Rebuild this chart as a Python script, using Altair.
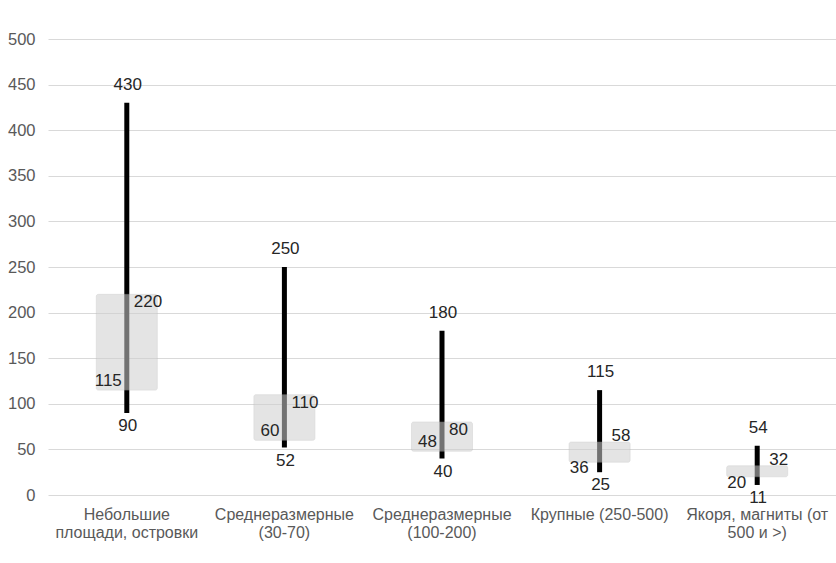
import altair as alt
import pandas as pd

categories = [
    "Небольшие\nплощади, островки",
    "Среднеразмерные\n(30-70)",
    "Среднеразмерные\n(100-200)",
    "Крупные (250-500)",
    "Якоря, магниты (от\n500 и >)",
]
mins = [90, 52, 40, 25, 11]
q1 = [115, 60, 48, 36, 20]
q3 = [220, 110, 80, 58, 32]
maxs = [430, 250, 180, 115, 54]

df = pd.DataFrame({"cat": categories, "lo": mins, "q1": q1, "q3": q3, "hi": maxs})

FONT = "Liberation Sans"
xenc = alt.X(
    "cat:N",
    sort=categories,
    title=None,
    scale=alt.Scale(paddingInner=0, paddingOuter=0),
    axis=alt.Axis(
        labelAngle=0,
        domain=False,
        ticks=False,
        grid=False,
        labelPadding=11,
        labelFontSize=16,
        labelFont=FONT,
        labelColor="#595959",
        labelLineHeight=18,
        labelExpr="split(datum.label, '\\n')",
    ),
)
yscale = alt.Scale(domain=[0, 500], nice=False)
yaxis = alt.Axis(
    values=list(range(0, 501, 50)),
    domain=False,
    ticks=False,
    grid=True,
    gridColor="#d9d9d9",
    gridWidth=1,
    labelPadding=13,
    labelFontSize=16.5,
    labelFont=FONT,
    labelColor="#595959",
)

# pixel -> data unit factor (456 px for 500 units)
U = 500 / 456
WIDE = "(datum.q3 - datum.q1) >= 25"
NARROW = "(datum.q3 - datum.q1) < 25"

base = alt.Chart(df).transform_calculate(
    q3y=f"{WIDE} ? datum.q3 - 8*{U} : datum.q3 + 6*{U}",
    q1y=f"{WIDE} ? datum.q1 + 9*{U} : datum.q1 - 6*{U}",
)
xc = alt.X("cat:N", sort=categories)

rule = base.mark_rule(color="#000000", strokeWidth=5).encode(
    x=xenc,
    y=alt.Y("lo:Q", scale=yscale, axis=yaxis, title=None),
    y2="hi:Q",
)

box = base.mark_bar(
    size=61, color="#cfcfcf", opacity=0.55, stroke="#b8b8b8", strokeWidth=1, strokeOpacity=0.6,
    cornerRadius=2,
).encode(x=xc, y="q1:Q", y2="q3:Q")

tstyle = dict(font=FONT, fontSize=17, color="#262626")

t_hi = base.mark_text(baseline="bottom", dy=-9, dx=1, **tstyle).encode(x=xc, y="hi:Q", text="hi:Q")
t_lo = base.mark_text(baseline="top", dy=5, dx=1, **tstyle).encode(x=xc, y="lo:Q", text="lo:Q")

t_q3w = base.transform_filter(WIDE).mark_text(baseline="middle", align="left", dx=7, **tstyle).encode(
    x=xc, y="q3y:Q", text="q3:Q"
)
t_q1w = base.transform_filter(WIDE).mark_text(baseline="middle", align="right", dx=-5, **tstyle).encode(
    x=xc, y="q1y:Q", text="q1:Q"
)
t_q3n = base.transform_filter(NARROW).mark_text(baseline="middle", align="left", dx=12, **tstyle).encode(
    x=xc, y="q3y:Q", text="q3:Q"
)
t_q1n = base.transform_filter(NARROW).mark_text(baseline="middle", align="right", dx=-11, **tstyle).encode(
    x=xc, y="q1y:Q", text="q1:Q"
)

chart = (
    alt.layer(rule, box, t_hi, t_lo, t_q3w, t_q1w, t_q3n, t_q1n)
    .properties(
        width=788,
        height=456,
        autosize=alt.AutoSizeParams(type="none"),
        padding={"left": 48, "top": 39, "right": 0, "bottom": 68},
        background="#ffffff",
    )
    .configure_view(stroke=None)
)

chart.save("out.html", embed_options={"renderer": "svg", "actions": False})
